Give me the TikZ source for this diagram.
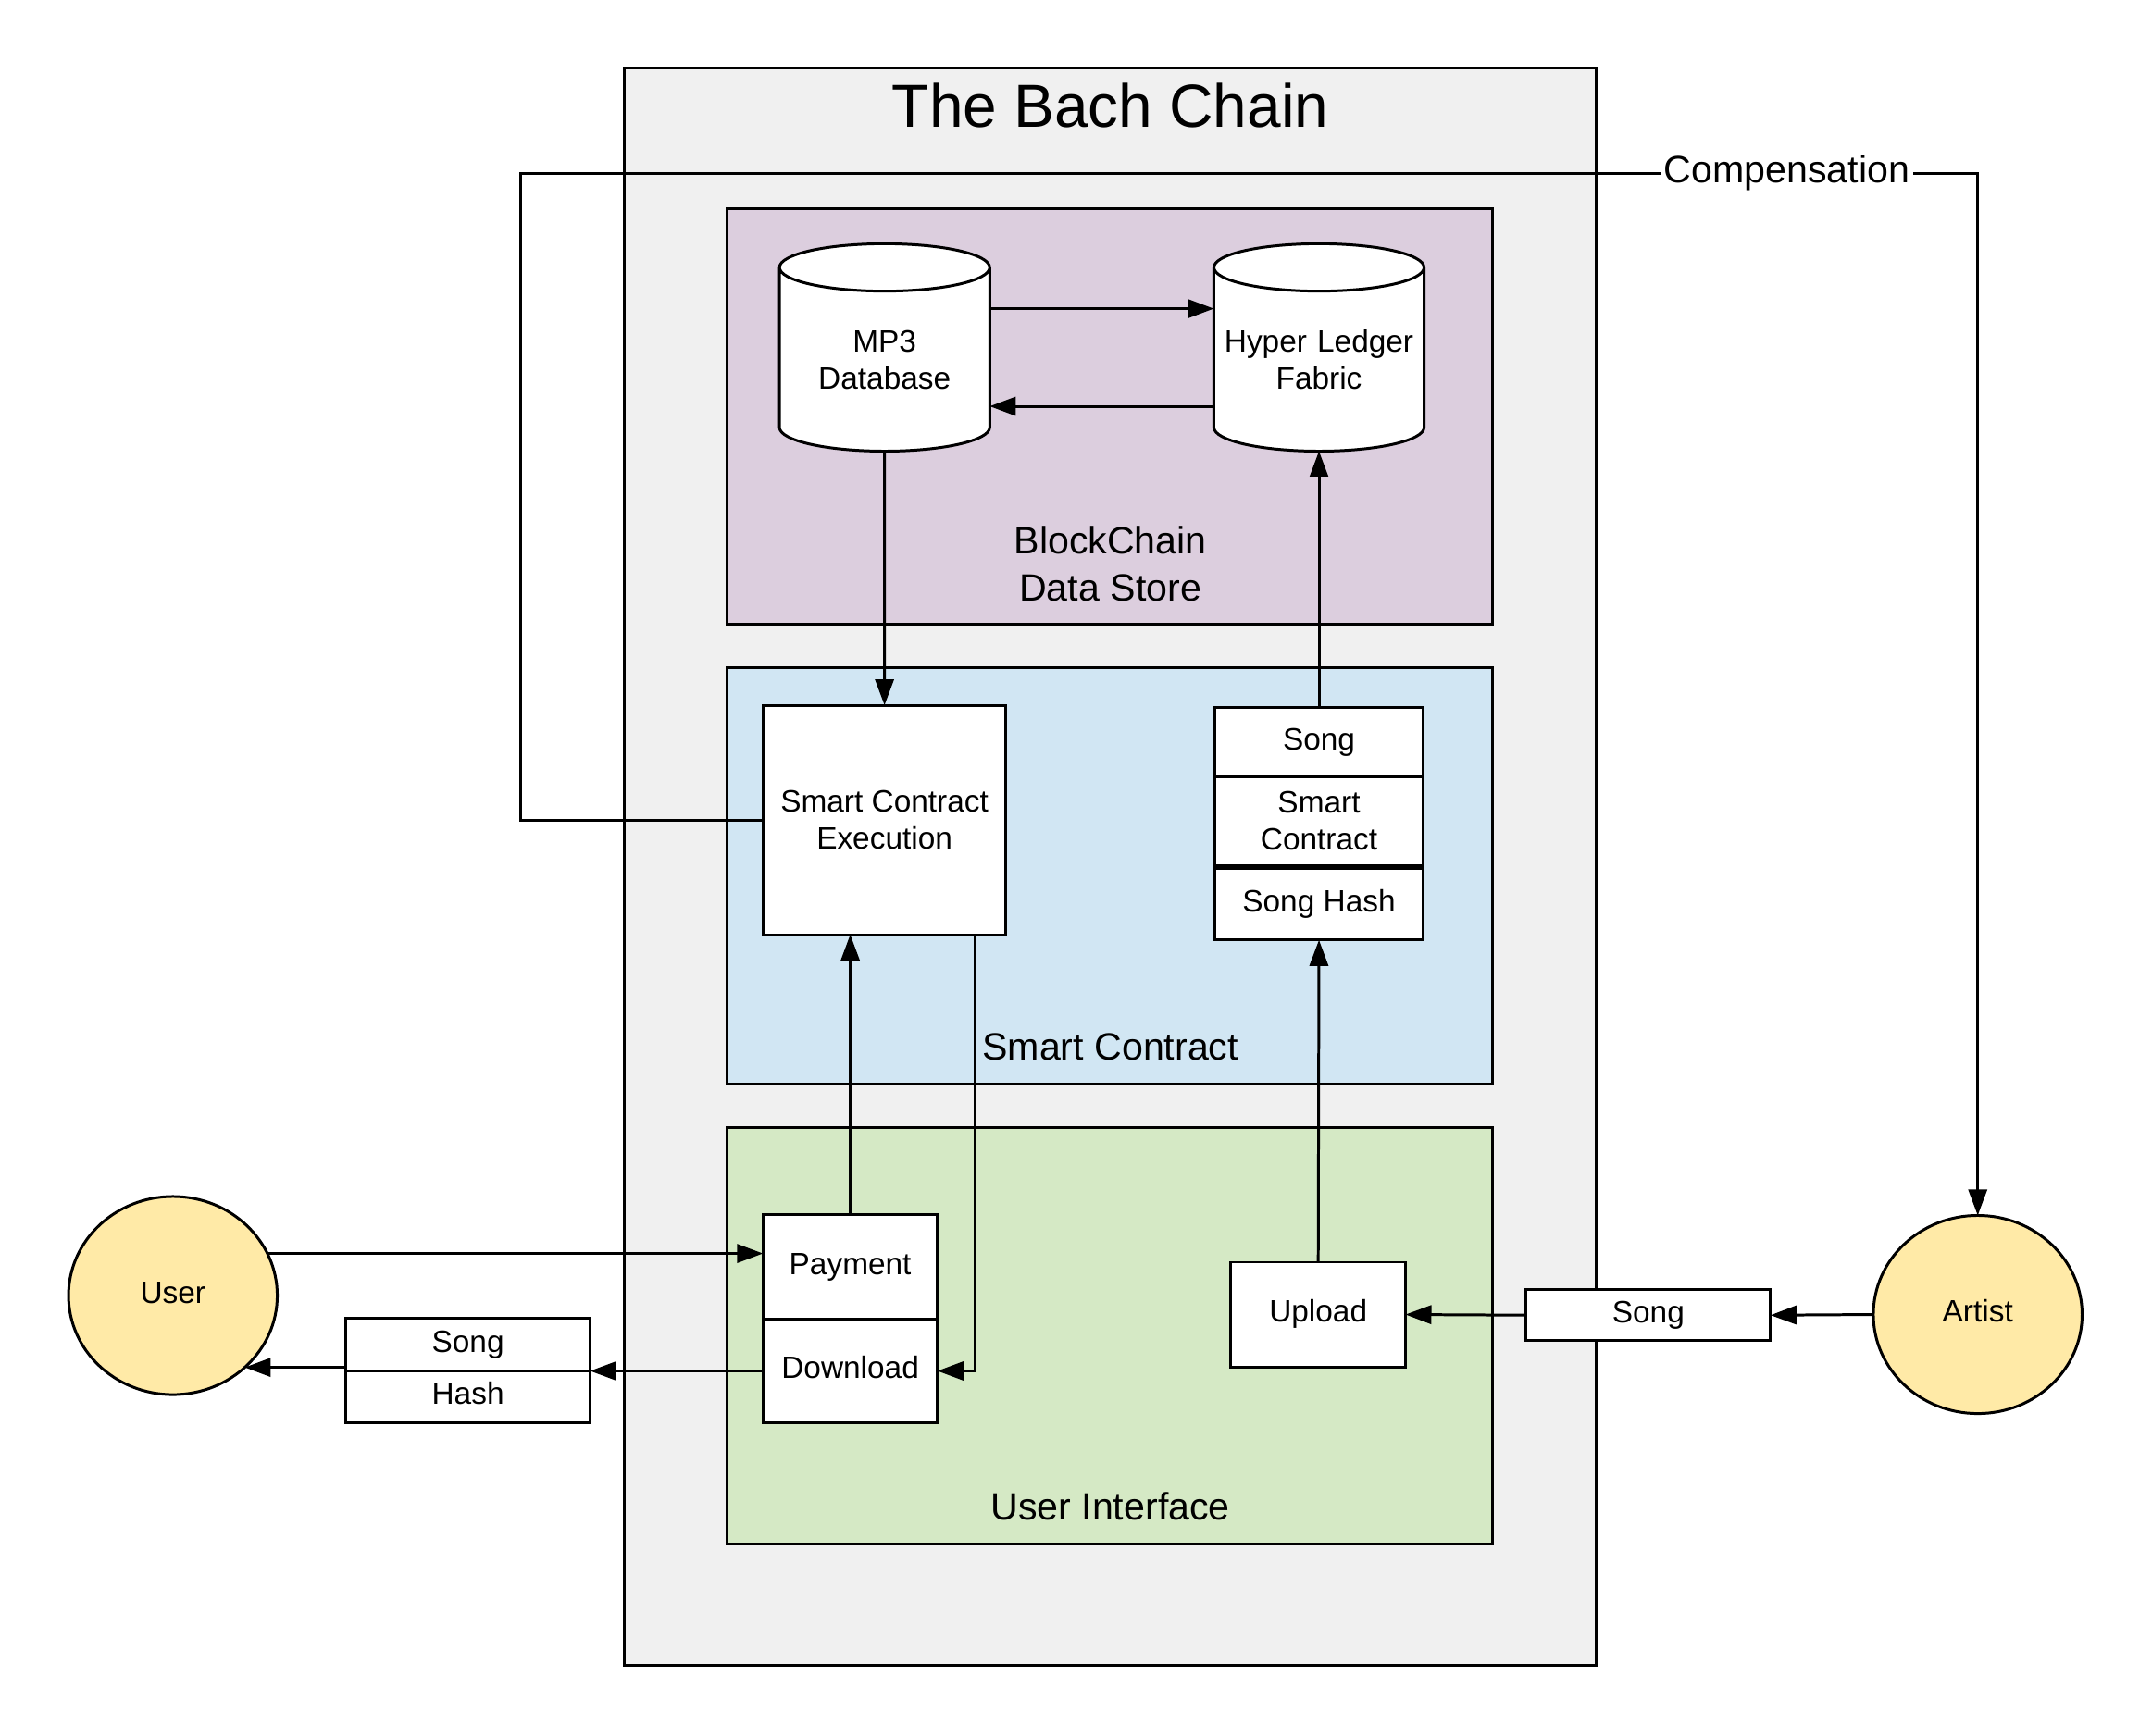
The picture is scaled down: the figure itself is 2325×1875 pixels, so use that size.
\documentclass[tikz,border=0pt]{standalone}
\usepackage{fontspec}
\setmainfont{Liberation Sans}
\usetikzlibrary{positioning, shapes.geometric, arrows.meta, calc}

\begin{document}
\begin{tikzpicture}[x=0.01cm, y=-0.01cm,
  box/.style={draw, line width=0.85pt, fill=white, inner sep=0pt, outer sep=0pt, align=center, font=\fontsize{9.5}{11.4}\selectfont},
  cell/.style={box, text height=6.84pt, text depth=2.09pt},
  panel/.style={draw, line width=0.85pt, inner sep=0pt, minimum width=8.26cm, minimum height=4.493cm},
  heading/.style={align=center, font=\fontsize{11.7}{14.3}\selectfont},
  db/.style={box, cylinder, shape border rotate=90, aspect=0.25, text width=2.05cm, minimum width=2.27cm, minimum height=2.24cm},
  actor/.style={cell, ellipse, fill=actorfill, minimum width=2.254cm, minimum height=2.14cm},
  flow/.style={line width=0.85pt, -{Triangle[length=0.28cm, width=0.2cm]}}]
  \definecolor{bachgray}{RGB}{240,240,240}
  \definecolor{storepurple}{RGB}{220,206,222}
  \definecolor{contractblue}{RGB}{209,230,243}
  \definecolor{uigreen}{RGB}{213,233,197}
  \definecolor{actorfill}{RGB}{255,234,167}
  \useasboundingbox (0,0) rectangle (2325,1875);

  \node[panel, fill=bachgray, minimum width=10.498cm, minimum height=17.245cm] (bach) at (1199.6,936.4) {};
  \node[font=\fontsize{18.7}{22}\selectfont] (title) at (1199.6,114) {The Bach Chain};
  \node[panel, fill=storepurple] (store) at (1199,450) {};
  \node[panel, fill=contractblue] (contract) at (1199,946.7) {};
  \node[panel, fill=uigreen] (ui) at (1199,1443.5) {};
  \node[heading] (storelabel) at (1199.6,609.4) {BlockChain\\Data Store};
  \node[heading] (contractlabel) at (1199.6,1131.4) {Smart Contract};
  \node[heading] (uilabel) at (1199.6,1628) {User Interface};

  \node[db] (mp3) at (955.7,389) {MP3\\Database};
  \node[db] (hl) at (1425,389) {Hyper Ledger\\Fabric};

  \node[box, minimum width=2.625cm, minimum height=2.478cm] (sce) at (955.6,886) {Smart Contract\\Execution};
  \node[cell, minimum width=2.254cm, minimum height=0.743cm] (stacksong) at (1425,802) {Song};
  \node[box, minimum width=2.254cm, minimum height=0.963cm, below=0pt of stacksong] (stackcontract) {Smart\\Contract};
  \node[cell, minimum width=2.254cm, minimum height=0.772cm, below=0.85pt of stackcontract] (stackhash) {Song Hash};

  \node[cell, minimum width=1.884cm, minimum height=1.127cm] (payment) at (918.6,1368.7) {Payment};
  \node[cell, minimum width=1.884cm, minimum height=1.127cm, below=0pt of payment] (download) {Download};
  \node[cell, minimum width=1.884cm, minimum height=1.13cm] (upload) at (1424.2,1420.5) {Upload};

  \node[actor] (user) at (186.8,1400) {User};
  \node[actor] (artist) at (2136.7,1420.5) {Artist};
  \node[cell, minimum width=2.639cm, minimum height=0.563cm] (songout) at (505.6,1453) {Song};
  \node[cell, minimum width=2.639cm, minimum height=0.563cm, below=0pt of songout] (hashout) {Hash};
  \node[cell, minimum width=2.639cm, minimum height=0.549cm] (songin) at (1780.8,1421.2) {Song};
  \coordinate (cornerL) at (562,187);

  \draw[flow] ([yshift=0.554cm]mp3.east) -- ([yshift=0.554cm]mp3.east -| hl.west);
  \draw[flow] ([yshift=-0.5cm]hl.west) -- ([yshift=-0.5cm]hl.west -| mp3.east);
  \draw[flow] (mp3.south) -- (sce.north);
  \draw[flow] (stacksong.north) -- (hl.south);
  \draw[flow] (payment.north) -- (payment.north |- sce.south);
  \draw[flow] ([xshift=-0.33cm]sce.south east) |- (download.east);
  \draw[flow] (upload.north) -- (stackhash.south);
  \draw[flow] (songin.west) -- (upload.east);
  \draw[flow] (artist.west) -- (songin.east);
  \draw[flow] (user.24) -- (user.24 -| payment.west);
  \draw[flow] (download.west) -- (download.west -| songout.east);
  \draw[flow] (user.-45 -| songout.west) -- (user.-45);
  \draw[flow] (sce.west) -| (cornerL) -- node[pos=0.869, fill=white, inner sep=1pt, font=\fontsize{11.7}{14}\selectfont] {Compensation} (cornerL -| artist.north) -- (artist.north);
\end{tikzpicture}
\end{document}
